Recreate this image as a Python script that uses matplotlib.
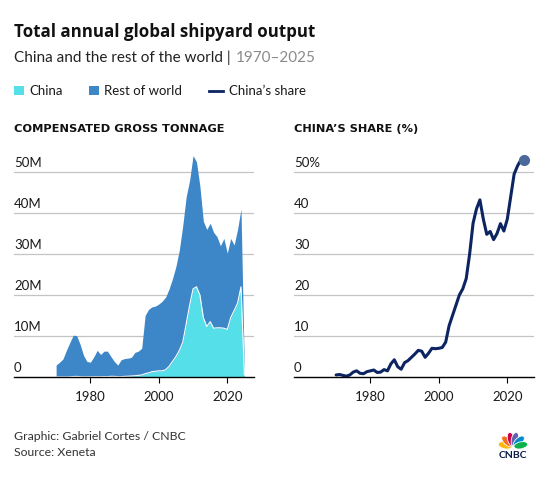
import matplotlib
matplotlib.use('Agg')
import matplotlib.pyplot as plt
from matplotlib.patches import Rectangle, Ellipse
from matplotlib import transforms
import numpy as np

# annual data, 1970-2025
years = list(range(1970, 2026))

# total compensated gross tonnage, millions
total_gt = [2.9, 3.6, 4.4, 6.5, 8.4, 10.2, 10.1, 8.0, 5.3, 3.8,
            3.6, 4.9, 6.5, 5.5, 6.3, 6.3, 5.0, 3.8, 2.9, 4.2,
            4.5, 4.6, 4.8, 6.0, 6.3, 7.0, 15.0, 16.5, 17.1, 17.3,
            17.8, 18.5, 19.5, 21.5, 24.0, 27.0, 31.0, 37.0, 44.0, 48.0,
            54.0, 52.5, 46.5, 38.0, 36.0, 37.5, 35.3, 34.2, 32.0, 33.8,
            30.2, 33.8, 32.2, 36.0, 41.0, 1.0]

# China's part, millions
china_gt = [0.01, 0.02, 0.02, 0.01, 0.04, 0.12, 0.15, 0.07, 0.04, 0.05,
            0.05, 0.08, 0.07, 0.07, 0.11, 0.09, 0.16, 0.16, 0.07, 0.08,
            0.16, 0.18, 0.25, 0.3, 0.4, 0.5, 0.8, 1.0, 1.3, 1.4,
            1.5, 1.5, 1.8, 2.6, 3.8, 5.0, 6.5, 8.5, 13.0, 17.5,
            21.5, 22.0, 20.0, 14.5, 12.3, 13.5, 11.9, 12.0, 12.0, 11.9,
            11.6, 14.5, 16.2, 18.0, 22.0, 0.5]

# China's share, %
china_share = [0.5, 0.6, 0.4, 0.2, 0.5, 1.2, 1.5, 0.9, 0.8, 1.3,
               1.5, 1.7, 1.1, 1.2, 1.8, 1.5, 3.2, 4.2, 2.5, 1.9,
               3.5, 4.0, 4.8, 5.6, 6.5, 6.3, 4.8, 5.8, 7.0, 6.9,
               7.0, 7.2, 8.5, 12.5, 15.0, 17.5, 20.0, 21.5, 24.0, 30.0,
               37.5, 41.0, 43.2, 38.5, 34.8, 35.5, 33.5, 35.0, 37.4, 35.6,
               38.5, 44.0, 49.5, 51.5, 53.0, 53.0]

gt_ticks = [0, 10, 20, 30, 40, 50]
gt_labels = ['0', '10M', '20M', '30M', '40M', '50M']
share_labels = ['0', '10', '20', '30', '40', '50%']
year_ticks = [1980, 2000, 2020]

CHINA_C = '#55dfe8'
ROW_C = '#3d87c8'
LINE_C = '#0c2461'
GRID_C = '#c4c4c4'
TXT_C = '#1a1a1a'
BOLD_FONT = ['Open Sans', 'DejaVu Sans']

plt.rcParams['font.family'] = ['Lato', 'DejaVu Sans']

W, H = 560, 482
fig = plt.figure(figsize=(W / 100, H / 100), dpi=100)

# overlay in pixel coordinates for titles, legend, footer
ov = fig.add_axes([0, 0, 1, 1])
ov.set_xlim(0, W)
ov.set_ylim(H, 0)
ov.axis('off')


def px_axes(x0, x1, ytop, ybot):
    return fig.add_axes([x0 / W, 1 - ybot / H, (x1 - x0) / W, (ybot - ytop) / H])


def style(ax, labels):
    ax.set_xlim(1957.7, 2027.8)
    ax.set_ylim(0, 55)
    ax.patch.set_alpha(0)
    for s in ['left', 'right', 'top']:
        ax.spines[s].set_visible(False)
    ax.spines['bottom'].set_color('black')
    ax.spines['bottom'].set_linewidth(1.0)
    ax.spines['bottom'].set_zorder(6)
    ax.set_yticks([])
    ax.set_xticks(year_ticks)
    ax.tick_params(axis='x', direction='out', length=4, width=0.8,
                   color='black', labelsize=9.5, labelcolor=TXT_C, pad=6)
    for v in gt_ticks[1:]:
        ax.axhline(v, color=GRID_C, lw=0.9, zorder=0)
    tr = transforms.offset_copy(ax.get_yaxis_transform(), fig=fig, x=0, y=5, units='dots')
    for v, lab in zip(gt_ticks, labels):
        ax.text(0, v, lab, transform=tr, ha='left', va='baseline',
                fontsize=9.5, color=TXT_C, zorder=1)


ax1 = px_axes(14, 254, 377 - 55 * 4.1, 377)
style(ax1, gt_labels)
ax1.fill_between(years, 0, total_gt, color=ROW_C, lw=0, zorder=2)
ax1.fill_between(years, 0, china_gt, color=CHINA_C, lw=0, zorder=3)
ax1.plot(years, china_gt, color='white', lw=0.8, zorder=4)

ax2 = px_axes(294, 534, 377 - 55 * 4.1, 377)
style(ax2, share_labels)
ax2.plot(years, china_share, color=LINE_C, lw=2.2, zorder=4,
         solid_capstyle='round', solid_joinstyle='round')
ax2.plot(years[-1], china_share[-1], 'o', ms=7, color='#4a6a9c', zorder=5)

# titles
ov.text(14, 37, 'Total annual global shipyard output', fontsize=12.2,
        fontweight='bold', family=BOLD_FONT, color='#111111', va='baseline')
sub = ov.text(14, 62.3, 'China and the rest of the world |', fontsize=11,
              color='#222222', va='baseline')
fig.canvas.draw()
bb = sub.get_window_extent()
ov.text(bb.x1 + 5, 62.3, '1970\u20132025', fontsize=11, color='#8a8a8a', va='baseline')

# legend
ov.add_patch(Rectangle((14, 86), 10, 9, color=CHINA_C, lw=0))
ov.text(29.3, 95, 'China', fontsize=9.5, color=TXT_C, va='baseline')
ov.add_patch(Rectangle((89.3, 86), 10, 9, color=ROW_C, lw=0))
ov.text(104.3, 95, 'Rest of world', fontsize=9.5, color=TXT_C, va='baseline')
ov.plot([209.3, 223.3], [90.7, 90.7], color=LINE_C, lw=2)
ov.text(229.3, 95, 'China\u2019s share', fontsize=9.5, color=TXT_C, va='baseline')

# panel headings (wide caps)
HEAD_FONT = ['DejaVu Sans']
ov.text(14, 131.7, 'COMPENSATED GROSS TONNAGE', fontsize=8.2, fontweight='bold',
        family=HEAD_FONT, color='#111111', va='baseline')
ov.text(294, 131.7, 'CHINA\u2019S SHARE (%)', fontsize=8.2, fontweight='bold',
        family=HEAD_FONT, color='#111111', va='baseline')

# footer
ov.text(13.5, 440, 'Graphic: Gabriel Cortes / CNBC', fontsize=8.8, color='#333333', va='baseline')
ov.text(13.5, 456, 'Source: Xeneta', fontsize=8.8, color='#333333', va='baseline')

# CNBC peacock
feathers = [('#fcb711', 168), ('#f37021', 136), ('#cc004c', 104),
            ('#6460aa', 76), ('#0089d0', 44), ('#0db14b', 12)]
bx, by = 513, 447
for col, ang in feathers:
    a = np.radians(ang)
    cx, cy = bx + 8 * np.cos(a), by - 8 * np.sin(a)
    ov.add_patch(Ellipse((cx, cy), 14, 7, angle=-ang, fc=col, ec='white', lw=0.6))
ov.text(bx, 458, 'CNBC', fontsize=7.5, fontweight='bold', color='#0b1c46',
        ha='center', va='baseline')

fig.savefig('out.png', dpi=100)
